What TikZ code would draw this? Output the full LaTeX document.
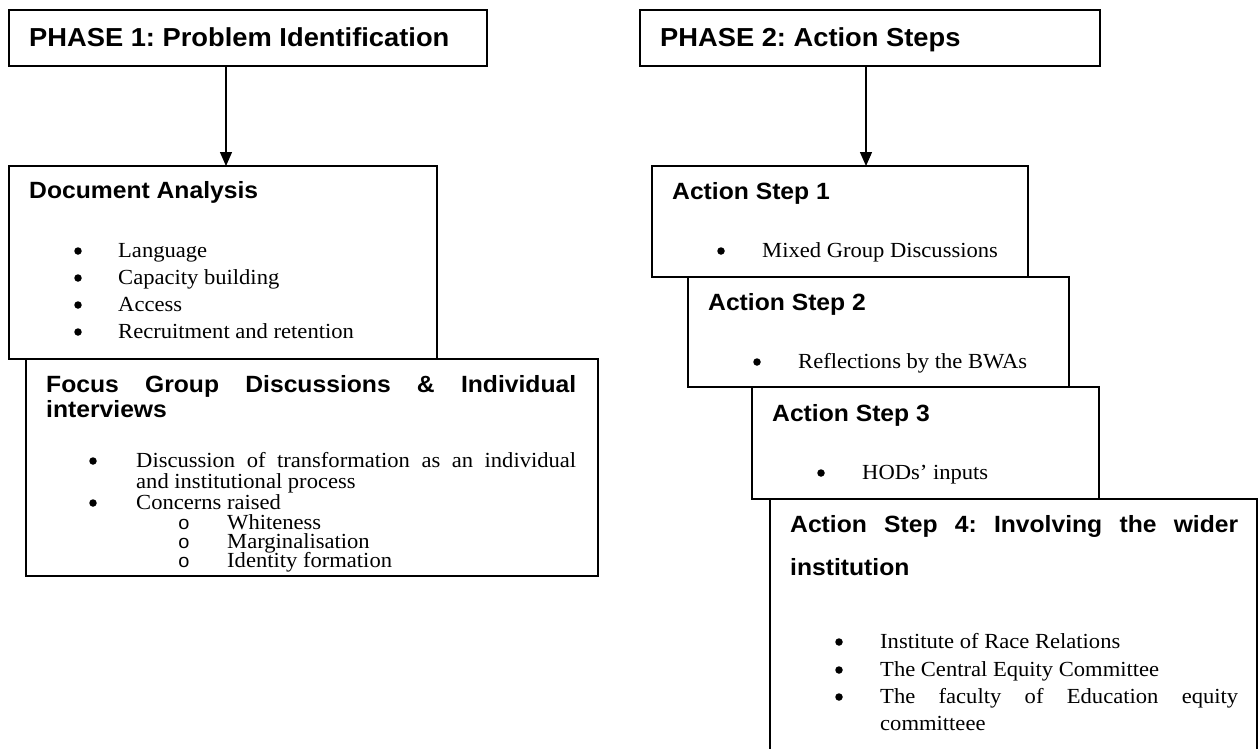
\documentclass[tikz,border=0pt]{standalone}
\usepackage{fontspec}
\setmainfont[FakeStretch=1.05]{Liberation Serif}
\setsansfont[FakeStretch=1.05]{Liberation Sans}
\usetikzlibrary{arrows.meta}
\frenchspacing
\begin{document}
\begin{tikzpicture}[x=1pt,y=-1pt,
  frame/.style={draw=black, line width=1.4pt, fill=white, inner sep=0pt, outer sep=0pt, anchor=north west},
  phasetitle/.style={anchor=base west, inner sep=0pt, font=\sffamily\bfseries\fontsize{26}{30}\selectfont},
  boxtitle/.style={anchor=base west, inner sep=0pt, font=\sffamily\bfseries\fontsize{23.5}{27}\selectfont},
  entry/.style={anchor=base west, inner sep=0pt, font=\rmfamily\fontsize{21.5}{25}\selectfont},
  dot/.style={circle, fill=black, inner sep=0pt, minimum size=7.5pt, yshift=6pt},
  subdot/.style={anchor=base, inner sep=0pt, font=\sffamily\fontsize{19}{22}\selectfont},
  flow/.style={line width=1.3pt, -{Triangle[length=14pt,width=12pt]}}]
\useasboundingbox (0,0) rectangle (1258,748);
\clip (0,0) rectangle (1258,748);

% ---------------- Phase 1 ----------------
\node[frame, minimum width=478pt, minimum height=56pt] (p1) at (9,10) {};
\node[phasetitle] (p1t) at (29,46) {PHASE 1: Problem Identification};

\node[frame, minimum width=428pt, minimum height=193pt] (da) at (9,166) {};
\node[boxtitle] (dat) at (29,198) {Document Analysis};
\foreach \yy/\txt [count=\i] in {257/Language, 284/Capacity building, 311/Access, 338/Recruitment and retention}{
  \node[dot] (dad\i) at (78,\yy) {};
  \node[entry] (dae\i) at (118,\yy) {\txt};
}

\node[frame, minimum width=572pt, minimum height=217pt] (fg) at (26,359) {};
\node[boxtitle] (fgt1) at (46,392) {\makebox[530pt][s]{Focus Group Discussions \& Individual}};
\node[boxtitle] (fgt2) at (46,417) {interviews};
\node[dot] (fgd1) at (93,467) {};
\node[entry] (fge1) at (136,467) {\makebox[440pt][s]{Discussion of transformation as an individual}};
\node[entry] (fge2) at (136,488) {and institutional process};
\node[dot] (fgd2) at (93,509) {};
\node[entry] (fge3) at (136,509) {Concerns raised};
\foreach \yy/\txt [count=\i] in {529/Whiteness, 548/Marginalisation, 567/Identity formation}{
  \node[subdot] (fgo\i) at (184,\yy) {o};
  \node[entry] (fgs\i) at (227,\yy) {\txt};
}

\coordinate (a1) at (226,0);
\draw[flow] (p1.south -| a1) -- (da.north -| a1);

% ---------------- Phase 2 ----------------
\node[frame, minimum width=460pt, minimum height=56pt] (p2) at (640,10) {};
\node[phasetitle] (p2t) at (660,46) {PHASE 2: Action Steps};

\node[frame, minimum width=376pt, minimum height=111pt] (s1) at (652,166) {};
\node[boxtitle] (s1t) at (672,199) {Action Step 1};
\node[dot] (s1d) at (721,257) {};
\node[entry] (s1e) at (762,257) {Mixed Group Discussions};

\node[frame, minimum width=381pt, minimum height=110pt] (s2) at (688,277) {};
\node[boxtitle] (s2t) at (708,310) {Action Step 2};
\node[dot] (s2d) at (757,368) {};
\node[entry] (s2e) at (798,368) {Reflections by the BWAs};

\node[frame, minimum width=347pt, minimum height=112pt] (s3) at (752,387) {};
\node[boxtitle] (s3t) at (772,421) {Action Step 3};
\node[dot] (s3d) at (821,479) {};
\node[entry] (s3e) at (862,479) {HODs’ inputs};

\node[frame, minimum width=487pt, minimum height=300pt] (s4) at (770,499) {};
\node[boxtitle] (s4t1) at (790,532) {\makebox[448pt][s]{Action Step 4: Involving the wider}};
\node[boxtitle] (s4t2) at (790,575) {institution};
\node[dot] (s4d1) at (839,648) {};
\node[entry] (s4e1) at (880,648) {Institute of Race Relations};
\node[dot] (s4d2) at (839,676) {};
\node[entry] (s4e2) at (880,676) {The Central Equity Committee};
\node[dot] (s4d3) at (839,703) {};
\node[entry] (s4e3) at (880,703) {\makebox[358pt][s]{The faculty of Education equity}};
\node[entry] (s4e4) at (880,730) {committeee};

\coordinate (a2) at (866,0);
\draw[flow] (p2.south -| a2) -- (s1.north -| a2);
\end{tikzpicture}
\end{document}
